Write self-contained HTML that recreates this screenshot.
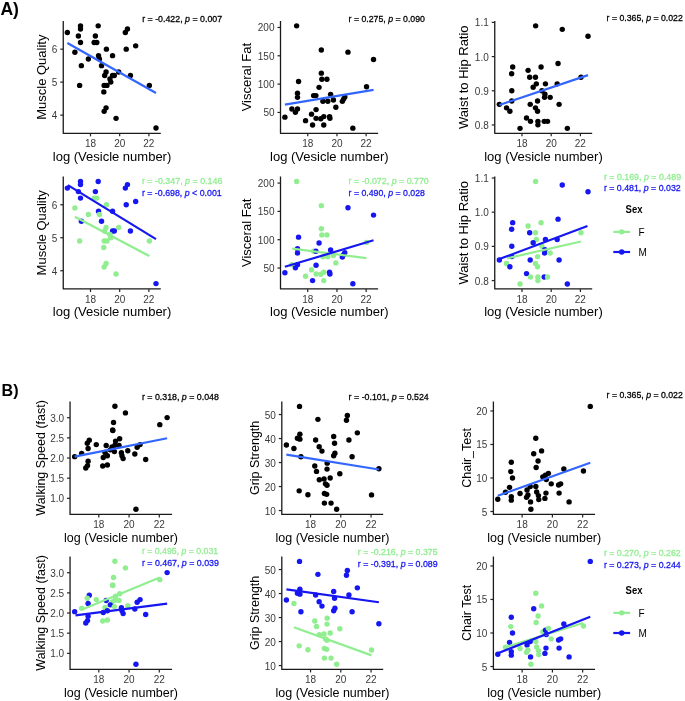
<!DOCTYPE html>
<html><head><meta charset="utf-8"><style>
html,body{margin:0;padding:0;background:#fff;overflow:hidden;width:685px;height:701px;}
svg{display:block;will-change:transform;}
text{font-family:"Liberation Sans",sans-serif;}
.ax{stroke:#1a1a1a;stroke-width:1.3;fill:none;stroke-linejoin:round;}
.tk{stroke:#222;stroke-width:1.2;fill:none;}
.tl{font-size:10px;fill:#3a3a3a;}
.at{font-size:12.9px;fill:#000;}
.an{font-size:9.9px;font-weight:normal;word-spacing:0px;stroke-width:0.3px;}
.lg{font-size:10.6px;font-weight:bold;fill:#000;}
.lt{font-size:10px;fill:#000;}
.pl{font-size:17.6px;font-weight:bold;fill:#000;}
</style></head><body>
<svg width="685" height="701" viewBox="0 0 685 701">
<rect width="685" height="701" fill="#fff"/>
<text x="0.5" y="14.6" class="pl" textLength="18.4" lengthAdjust="spacing">A)</text>
<text x="1.6" y="395.5" class="pl" style="font-size:17px" textLength="17.0" lengthAdjust="spacingAndGlyphs">B)</text>
<path d="M63.25 21.00V133.35H160.80" class="ax"/>
<path d="M60.25 49.15H63.25" class="tk"/>
<text x="57.25" y="53.15" class="tl" text-anchor="end">6</text>
<path d="M60.25 82.13H63.25" class="tk"/>
<text x="57.25" y="86.13" class="tl" text-anchor="end">5</text>
<path d="M60.25 115.12H63.25" class="tk"/>
<text x="57.25" y="119.12" class="tl" text-anchor="end">4</text>
<path d="M90.49 133.35V136.35" class="tk"/>
<text x="90.49" y="147.15" class="tl" text-anchor="middle">18</text>
<path d="M119.69 133.35V136.35" class="tk"/>
<text x="119.69" y="147.15" class="tl" text-anchor="middle">20</text>
<path d="M148.89 133.35V136.35" class="tk"/>
<text x="148.89" y="147.15" class="tl" text-anchor="middle">22</text>
<text x="112.03" y="160.55" class="at" style="font-size:13.0px" text-anchor="middle">log (Vesicle number)</text>
<text transform="translate(45.60 77.17) rotate(-90)" class="at" style="font-size:13.0px" text-anchor="middle">Muscle Quality</text>
<circle cx="67.36" cy="32.52" r="2.7" fill="#000000"/>
<circle cx="80.50" cy="25.86" r="2.7" fill="#000000"/>
<circle cx="80.50" cy="29.01" r="2.7" fill="#000000"/>
<circle cx="98.19" cy="25.86" r="2.7" fill="#000000"/>
<circle cx="78.39" cy="36.02" r="2.7" fill="#000000"/>
<circle cx="95.39" cy="36.02" r="2.7" fill="#000000"/>
<circle cx="80.50" cy="42.50" r="2.7" fill="#000000"/>
<circle cx="94.16" cy="42.50" r="2.7" fill="#000000"/>
<circle cx="96.79" cy="42.50" r="2.7" fill="#000000"/>
<circle cx="127.45" cy="29.01" r="2.7" fill="#000000"/>
<circle cx="125.34" cy="32.52" r="2.7" fill="#000000"/>
<circle cx="135.68" cy="45.83" r="2.7" fill="#000000"/>
<circle cx="126.22" cy="49.16" r="2.7" fill="#000000"/>
<circle cx="74.89" cy="52.31" r="2.7" fill="#000000"/>
<circle cx="106.42" cy="49.16" r="2.7" fill="#000000"/>
<circle cx="98.54" cy="55.64" r="2.7" fill="#000000"/>
<circle cx="112.55" cy="55.64" r="2.7" fill="#000000"/>
<circle cx="88.38" cy="58.97" r="2.7" fill="#000000"/>
<circle cx="99.42" cy="58.97" r="2.7" fill="#000000"/>
<circle cx="81.37" cy="65.63" r="2.7" fill="#000000"/>
<circle cx="101.52" cy="65.63" r="2.7" fill="#000000"/>
<circle cx="106.07" cy="71.93" r="2.7" fill="#000000"/>
<circle cx="118.69" cy="71.93" r="2.7" fill="#000000"/>
<circle cx="104.67" cy="75.44" r="2.7" fill="#000000"/>
<circle cx="112.55" cy="75.44" r="2.7" fill="#000000"/>
<circle cx="114.31" cy="75.44" r="2.7" fill="#000000"/>
<circle cx="130.42" cy="75.44" r="2.7" fill="#000000"/>
<circle cx="109.93" cy="78.94" r="2.7" fill="#000000"/>
<circle cx="110.80" cy="82.09" r="2.7" fill="#000000"/>
<circle cx="79.62" cy="85.42" r="2.7" fill="#000000"/>
<circle cx="104.15" cy="85.42" r="2.7" fill="#000000"/>
<circle cx="106.95" cy="85.42" r="2.7" fill="#000000"/>
<circle cx="149.34" cy="85.42" r="2.7" fill="#000000"/>
<circle cx="103.80" cy="91.91" r="2.7" fill="#000000"/>
<circle cx="106.07" cy="107.85" r="2.7" fill="#000000"/>
<circle cx="104.15" cy="111.35" r="2.7" fill="#000000"/>
<circle cx="116.06" cy="118.36" r="2.7" fill="#000000"/>
<circle cx="156.00" cy="127.99" r="2.7" fill="#000000"/>
<path d="M67.36 43.03L156.00 92.96" stroke="#3366FF" stroke-width="2.2" fill="none"/>
<text x="142.20" y="22.30" class="an" fill="#000000" stroke="#000000" textLength="79.90" lengthAdjust="spacingAndGlyphs">r = -0.422, <tspan font-style="italic">p</tspan> = 0.007</text>
<path d="M280.50 21.00V133.35H378.10" class="ax"/>
<path d="M277.50 27.46H280.50" class="tk"/>
<text x="274.50" y="31.46" class="tl" text-anchor="end">200</text>
<path d="M277.50 55.79H280.50" class="tk"/>
<text x="274.50" y="59.79" class="tl" text-anchor="end">150</text>
<path d="M277.50 84.11H280.50" class="tk"/>
<text x="274.50" y="88.11" class="tl" text-anchor="end">100</text>
<path d="M277.50 112.44H280.50" class="tk"/>
<text x="274.50" y="116.44" class="tl" text-anchor="end">50</text>
<path d="M307.74 133.35V136.35" class="tk"/>
<text x="307.74" y="147.15" class="tl" text-anchor="middle">18</text>
<path d="M336.94 133.35V136.35" class="tk"/>
<text x="336.94" y="147.15" class="tl" text-anchor="middle">20</text>
<path d="M366.14 133.35V136.35" class="tk"/>
<text x="366.14" y="147.15" class="tl" text-anchor="middle">22</text>
<text x="329.30" y="160.55" class="at" style="font-size:13.0px" text-anchor="middle">log (Vesicle number)</text>
<text transform="translate(251.20 77.17) rotate(-90)" class="at" style="font-size:13.0px" text-anchor="middle">Visceral Fat</text>
<circle cx="296.63" cy="25.86" r="2.7" fill="#000000"/>
<circle cx="321.33" cy="50.04" r="2.7" fill="#000000"/>
<circle cx="347.96" cy="52.14" r="2.7" fill="#000000"/>
<circle cx="373.53" cy="59.50" r="2.7" fill="#000000"/>
<circle cx="321.33" cy="73.16" r="2.7" fill="#000000"/>
<circle cx="321.85" cy="79.29" r="2.7" fill="#000000"/>
<circle cx="326.93" cy="79.29" r="2.7" fill="#000000"/>
<circle cx="298.55" cy="81.57" r="2.7" fill="#000000"/>
<circle cx="319.05" cy="87.35" r="2.7" fill="#000000"/>
<circle cx="366.53" cy="86.82" r="2.7" fill="#000000"/>
<circle cx="297.50" cy="93.13" r="2.7" fill="#000000"/>
<circle cx="297.50" cy="97.34" r="2.7" fill="#000000"/>
<circle cx="313.62" cy="95.58" r="2.7" fill="#000000"/>
<circle cx="315.90" cy="95.58" r="2.7" fill="#000000"/>
<circle cx="330.61" cy="94.36" r="2.7" fill="#000000"/>
<circle cx="333.42" cy="99.96" r="2.7" fill="#000000"/>
<circle cx="322.91" cy="101.19" r="2.7" fill="#000000"/>
<circle cx="327.81" cy="101.19" r="2.7" fill="#000000"/>
<circle cx="344.80" cy="96.99" r="2.7" fill="#000000"/>
<circle cx="343.58" cy="99.09" r="2.7" fill="#000000"/>
<circle cx="342.35" cy="101.36" r="2.7" fill="#000000"/>
<circle cx="335.87" cy="107.32" r="2.7" fill="#000000"/>
<circle cx="291.90" cy="109.07" r="2.7" fill="#000000"/>
<circle cx="297.50" cy="109.07" r="2.7" fill="#000000"/>
<circle cx="295.40" cy="112.23" r="2.7" fill="#000000"/>
<circle cx="316.07" cy="109.60" r="2.7" fill="#000000"/>
<circle cx="311.52" cy="114.15" r="2.7" fill="#000000"/>
<circle cx="284.89" cy="117.13" r="2.7" fill="#000000"/>
<circle cx="316.07" cy="118.36" r="2.7" fill="#000000"/>
<circle cx="320.80" cy="118.71" r="2.7" fill="#000000"/>
<circle cx="323.78" cy="116.61" r="2.7" fill="#000000"/>
<circle cx="329.56" cy="116.61" r="2.7" fill="#000000"/>
<circle cx="329.91" cy="118.36" r="2.7" fill="#000000"/>
<circle cx="305.56" cy="120.64" r="2.7" fill="#000000"/>
<circle cx="312.57" cy="125.01" r="2.7" fill="#000000"/>
<circle cx="323.78" cy="125.01" r="2.7" fill="#000000"/>
<circle cx="352.86" cy="128.17" r="2.7" fill="#000000"/>
<path d="M284.89 104.69L373.53 89.80" stroke="#3366FF" stroke-width="2.2" fill="none"/>
<text x="348.60" y="22.10" class="an" fill="#000000" stroke="#000000" textLength="76.30" lengthAdjust="spacingAndGlyphs">r = 0.275, <tspan font-style="italic">p</tspan> = 0.090</text>
<path d="M494.75 21.00V133.35H592.20" class="ax"/>
<path d="M491.75 22.41H494.75" class="tk"/>
<text x="488.75" y="26.41" class="tl" text-anchor="end">1.1</text>
<path d="M491.75 56.59H494.75" class="tk"/>
<text x="488.75" y="60.59" class="tl" text-anchor="end">1.0</text>
<path d="M491.75 90.78H494.75" class="tk"/>
<text x="488.75" y="94.78" class="tl" text-anchor="end">0.9</text>
<path d="M491.75 124.96H494.75" class="tk"/>
<text x="488.75" y="128.96" class="tl" text-anchor="end">0.8</text>
<path d="M521.99 133.35V136.35" class="tk"/>
<text x="521.99" y="147.15" class="tl" text-anchor="middle">18</text>
<path d="M551.19 133.35V136.35" class="tk"/>
<text x="551.19" y="147.15" class="tl" text-anchor="middle">20</text>
<path d="M580.39 133.35V136.35" class="tk"/>
<text x="580.39" y="147.15" class="tl" text-anchor="middle">22</text>
<text x="543.48" y="160.55" class="at" style="font-size:13.0px" text-anchor="middle">log (Vesicle number)</text>
<text transform="translate(468.40 77.17) rotate(-90)" class="at" style="font-size:13.0px" text-anchor="middle">Waist to Hip Ratio</text>
<circle cx="535.63" cy="25.86" r="2.7" fill="#000000"/>
<circle cx="562.26" cy="29.36" r="2.7" fill="#000000"/>
<circle cx="588.01" cy="36.20" r="2.7" fill="#000000"/>
<circle cx="558.05" cy="63.53" r="2.7" fill="#000000"/>
<circle cx="512.68" cy="67.03" r="2.7" fill="#000000"/>
<circle cx="541.06" cy="67.03" r="2.7" fill="#000000"/>
<circle cx="528.09" cy="70.36" r="2.7" fill="#000000"/>
<circle cx="511.63" cy="73.69" r="2.7" fill="#000000"/>
<circle cx="529.67" cy="77.19" r="2.7" fill="#000000"/>
<circle cx="535.45" cy="77.19" r="2.7" fill="#000000"/>
<circle cx="581.00" cy="77.19" r="2.7" fill="#000000"/>
<circle cx="536.33" cy="83.85" r="2.7" fill="#000000"/>
<circle cx="545.44" cy="83.85" r="2.7" fill="#000000"/>
<circle cx="557.18" cy="83.85" r="2.7" fill="#000000"/>
<circle cx="533.18" cy="87.18" r="2.7" fill="#000000"/>
<circle cx="511.80" cy="90.68" r="2.7" fill="#000000"/>
<circle cx="541.93" cy="90.68" r="2.7" fill="#000000"/>
<circle cx="544.91" cy="94.18" r="2.7" fill="#000000"/>
<circle cx="544.56" cy="97.34" r="2.7" fill="#000000"/>
<circle cx="550.17" cy="97.34" r="2.7" fill="#000000"/>
<circle cx="511.80" cy="101.01" r="2.7" fill="#000000"/>
<circle cx="537.55" cy="101.01" r="2.7" fill="#000000"/>
<circle cx="499.36" cy="104.34" r="2.7" fill="#000000"/>
<circle cx="530.20" cy="104.34" r="2.7" fill="#000000"/>
<circle cx="559.10" cy="104.34" r="2.7" fill="#000000"/>
<circle cx="506.55" cy="107.85" r="2.7" fill="#000000"/>
<circle cx="535.45" cy="107.85" r="2.7" fill="#000000"/>
<circle cx="509.88" cy="111.18" r="2.7" fill="#000000"/>
<circle cx="537.55" cy="111.18" r="2.7" fill="#000000"/>
<circle cx="526.52" cy="118.01" r="2.7" fill="#000000"/>
<circle cx="530.55" cy="121.34" r="2.7" fill="#000000"/>
<circle cx="537.91" cy="121.34" r="2.7" fill="#000000"/>
<circle cx="544.21" cy="121.34" r="2.7" fill="#000000"/>
<circle cx="547.54" cy="121.34" r="2.7" fill="#000000"/>
<circle cx="537.91" cy="124.84" r="2.7" fill="#000000"/>
<circle cx="520.04" cy="128.34" r="2.7" fill="#000000"/>
<circle cx="567.34" cy="128.34" r="2.7" fill="#000000"/>
<path d="M499.36 105.04L588.01 75.09" stroke="#3366FF" stroke-width="2.2" fill="none"/>
<text x="606.60" y="20.50" class="an" fill="#000000" stroke="#000000" textLength="76.20" lengthAdjust="spacingAndGlyphs">r = 0.365, <tspan font-style="italic">p</tspan> = 0.022</text>
<path d="M70.05 401.40V514.40H172.10" class="ax"/>
<path d="M67.05 417.74H70.05" class="tk"/>
<text x="64.05" y="421.74" class="tl" text-anchor="end">3.0</text>
<path d="M67.05 437.89H70.05" class="tk"/>
<text x="64.05" y="441.89" class="tl" text-anchor="end">2.5</text>
<path d="M67.05 458.03H70.05" class="tk"/>
<text x="64.05" y="462.03" class="tl" text-anchor="end">2.0</text>
<path d="M67.05 478.18H70.05" class="tk"/>
<text x="64.05" y="482.18" class="tl" text-anchor="end">1.5</text>
<path d="M67.05 498.33H70.05" class="tk"/>
<text x="64.05" y="502.33" class="tl" text-anchor="end">1.0</text>
<path d="M98.80 514.40V517.40" class="tk"/>
<text x="98.80" y="528.20" class="tl" text-anchor="middle">18</text>
<path d="M129.05 514.40V517.40" class="tk"/>
<text x="129.05" y="528.20" class="tl" text-anchor="middle">20</text>
<path d="M159.30 514.40V517.40" class="tk"/>
<text x="159.30" y="528.20" class="tl" text-anchor="middle">22</text>
<text x="121.07" y="541.50" class="at" style="font-size:12.5px" text-anchor="middle">log (Vesicle number)</text>
<text transform="translate(44.70 457.90) rotate(-90)" class="at" style="font-size:12.5px" text-anchor="middle">Walking Speed (fast)</text>
<circle cx="114.93" cy="406.23" r="2.7" fill="#000000"/>
<circle cx="125.44" cy="412.89" r="2.7" fill="#000000"/>
<circle cx="167.13" cy="417.62" r="2.7" fill="#000000"/>
<circle cx="159.77" cy="424.63" r="2.7" fill="#000000"/>
<circle cx="113.53" cy="422.53" r="2.7" fill="#000000"/>
<circle cx="112.65" cy="430.06" r="2.7" fill="#000000"/>
<circle cx="135.95" cy="509.24" r="2.7" fill="#000000"/>
<circle cx="112.86" cy="430.58" r="2.7" fill="#000000"/>
<circle cx="89.27" cy="440.28" r="2.7" fill="#000000"/>
<circle cx="87.28" cy="443.20" r="2.7" fill="#000000"/>
<circle cx="96.28" cy="444.60" r="2.7" fill="#000000"/>
<circle cx="88.10" cy="448.45" r="2.7" fill="#000000"/>
<circle cx="119.64" cy="438.76" r="2.7" fill="#000000"/>
<circle cx="115.55" cy="441.09" r="2.7" fill="#000000"/>
<circle cx="106.20" cy="445.53" r="2.7" fill="#000000"/>
<circle cx="112.04" cy="446.93" r="2.7" fill="#000000"/>
<circle cx="114.96" cy="445.18" r="2.7" fill="#000000"/>
<circle cx="119.05" cy="445.53" r="2.7" fill="#000000"/>
<circle cx="110.29" cy="449.85" r="2.7" fill="#000000"/>
<circle cx="140.07" cy="444.60" r="2.7" fill="#000000"/>
<circle cx="137.15" cy="447.28" r="2.7" fill="#000000"/>
<circle cx="127.81" cy="450.79" r="2.7" fill="#000000"/>
<circle cx="134.82" cy="453.94" r="2.7" fill="#000000"/>
<circle cx="121.39" cy="452.77" r="2.7" fill="#000000"/>
<circle cx="121.97" cy="455.69" r="2.7" fill="#000000"/>
<circle cx="123.14" cy="458.61" r="2.7" fill="#000000"/>
<circle cx="145.68" cy="459.43" r="2.7" fill="#000000"/>
<circle cx="81.68" cy="453.36" r="2.7" fill="#000000"/>
<circle cx="74.67" cy="456.63" r="2.7" fill="#000000"/>
<circle cx="105.04" cy="452.42" r="2.7" fill="#000000"/>
<circle cx="107.37" cy="455.69" r="2.7" fill="#000000"/>
<circle cx="103.28" cy="457.45" r="2.7" fill="#000000"/>
<circle cx="88.10" cy="461.30" r="2.7" fill="#000000"/>
<circle cx="87.52" cy="465.62" r="2.7" fill="#000000"/>
<circle cx="85.77" cy="467.96" r="2.7" fill="#000000"/>
<circle cx="102.70" cy="465.97" r="2.7" fill="#000000"/>
<circle cx="107.37" cy="465.04" r="2.7" fill="#000000"/>
<circle cx="114.38" cy="451.61" r="2.7" fill="#000000"/>
<path d="M74.64 456.69L167.13 438.29" stroke="#3366FF" stroke-width="2.2" fill="none"/>
<text x="141.90" y="399.80" class="an" fill="#000000" stroke="#000000" textLength="77.00" lengthAdjust="spacingAndGlyphs">r = 0.318, <tspan font-style="italic">p</tspan> = 0.048</text>
<path d="M281.80 401.40V514.40H383.20" class="ax"/>
<path d="M278.80 414.54H281.80" class="tk"/>
<text x="275.80" y="418.54" class="tl" text-anchor="end">50</text>
<path d="M278.80 438.55H281.80" class="tk"/>
<text x="275.80" y="442.55" class="tl" text-anchor="end">40</text>
<path d="M278.80 462.55H281.80" class="tk"/>
<text x="275.80" y="466.55" class="tl" text-anchor="end">30</text>
<path d="M278.80 486.56H281.80" class="tk"/>
<text x="275.80" y="490.56" class="tl" text-anchor="end">20</text>
<path d="M278.80 510.56H281.80" class="tk"/>
<text x="275.80" y="514.56" class="tl" text-anchor="end">10</text>
<path d="M310.55 514.40V517.40" class="tk"/>
<text x="310.55" y="528.20" class="tl" text-anchor="middle">18</text>
<path d="M340.80 514.40V517.40" class="tk"/>
<text x="340.80" y="528.20" class="tl" text-anchor="middle">20</text>
<path d="M371.05 514.40V517.40" class="tk"/>
<text x="371.05" y="528.20" class="tl" text-anchor="middle">22</text>
<text x="332.50" y="541.50" class="at" style="font-size:12.5px" text-anchor="middle">log (Vesicle number)</text>
<text transform="translate(259.00 457.90) rotate(-90)" class="at" style="font-size:12.5px" text-anchor="middle">Grip Strength</text>
<circle cx="299.53" cy="406.41" r="2.7" fill="#000000"/>
<circle cx="317.92" cy="419.37" r="2.7" fill="#000000"/>
<circle cx="347.35" cy="415.52" r="2.7" fill="#000000"/>
<circle cx="346.47" cy="420.25" r="2.7" fill="#000000"/>
<circle cx="357.34" cy="432.86" r="2.7" fill="#000000"/>
<circle cx="299.88" cy="434.26" r="2.7" fill="#000000"/>
<circle cx="297.42" cy="438.29" r="2.7" fill="#000000"/>
<circle cx="299.88" cy="439.17" r="2.7" fill="#000000"/>
<circle cx="315.64" cy="440.04" r="2.7" fill="#000000"/>
<circle cx="333.69" cy="436.54" r="2.7" fill="#000000"/>
<circle cx="348.93" cy="440.04" r="2.7" fill="#000000"/>
<circle cx="334.56" cy="443.20" r="2.7" fill="#000000"/>
<circle cx="286.39" cy="444.95" r="2.7" fill="#000000"/>
<circle cx="293.92" cy="448.45" r="2.7" fill="#000000"/>
<circle cx="319.15" cy="446.70" r="2.7" fill="#000000"/>
<circle cx="321.95" cy="451.08" r="2.7" fill="#000000"/>
<circle cx="334.91" cy="453.18" r="2.7" fill="#000000"/>
<circle cx="333.69" cy="455.81" r="2.7" fill="#000000"/>
<circle cx="300.93" cy="456.69" r="2.7" fill="#000000"/>
<circle cx="352.08" cy="456.69" r="2.7" fill="#000000"/>
<circle cx="327.20" cy="463.17" r="2.7" fill="#000000"/>
<circle cx="314.77" cy="465.97" r="2.7" fill="#000000"/>
<circle cx="327.03" cy="469.12" r="2.7" fill="#000000"/>
<circle cx="378.88" cy="468.77" r="2.7" fill="#000000"/>
<circle cx="316.52" cy="471.40" r="2.7" fill="#000000"/>
<circle cx="339.82" cy="473.68" r="2.7" fill="#000000"/>
<circle cx="319.32" cy="479.81" r="2.7" fill="#000000"/>
<circle cx="324.05" cy="478.93" r="2.7" fill="#000000"/>
<circle cx="330.18" cy="478.06" r="2.7" fill="#000000"/>
<circle cx="325.45" cy="483.84" r="2.7" fill="#000000"/>
<circle cx="327.03" cy="485.24" r="2.7" fill="#000000"/>
<circle cx="299.18" cy="490.85" r="2.7" fill="#000000"/>
<circle cx="307.93" cy="494.70" r="2.7" fill="#000000"/>
<circle cx="324.40" cy="493.47" r="2.7" fill="#000000"/>
<circle cx="326.68" cy="494.35" r="2.7" fill="#000000"/>
<circle cx="371.53" cy="494.88" r="2.7" fill="#000000"/>
<circle cx="324.40" cy="503.11" r="2.7" fill="#000000"/>
<circle cx="331.06" cy="503.11" r="2.7" fill="#000000"/>
<circle cx="336.66" cy="509.24" r="2.7" fill="#000000"/>
<path d="M286.39 454.58L378.88 469.47" stroke="#3366FF" stroke-width="2.2" fill="none"/>
<text x="348.60" y="399.80" class="an" fill="#000000" stroke="#000000" textLength="80.20" lengthAdjust="spacingAndGlyphs">r = -0.101, <tspan font-style="italic">p</tspan> = 0.524</text>
<path d="M493.40 401.40V514.40H595.06" class="ax"/>
<path d="M490.40 410.96H493.40" class="tk"/>
<text x="487.40" y="414.96" class="tl" text-anchor="end">20</text>
<path d="M490.40 444.47H493.40" class="tk"/>
<text x="487.40" y="448.47" class="tl" text-anchor="end">15</text>
<path d="M490.40 477.99H493.40" class="tk"/>
<text x="487.40" y="481.99" class="tl" text-anchor="end">10</text>
<path d="M490.40 511.50H493.40" class="tk"/>
<text x="487.40" y="515.50" class="tl" text-anchor="end">5</text>
<path d="M522.15 514.40V517.40" class="tk"/>
<text x="522.15" y="528.20" class="tl" text-anchor="middle">18</text>
<path d="M552.40 514.40V517.40" class="tk"/>
<text x="552.40" y="528.20" class="tl" text-anchor="middle">20</text>
<path d="M582.65 514.40V517.40" class="tk"/>
<text x="582.65" y="528.20" class="tl" text-anchor="middle">22</text>
<text x="544.23" y="541.50" class="at" style="font-size:12.5px" text-anchor="middle">log (Vesicle number)</text>
<text transform="translate(471.00 457.90) rotate(-90)" class="at" style="font-size:12.5px" text-anchor="middle">Chair_Test</text>
<circle cx="590.28" cy="406.41" r="2.7" fill="#000000"/>
<circle cx="535.80" cy="438.29" r="2.7" fill="#000000"/>
<circle cx="541.58" cy="450.91" r="2.7" fill="#000000"/>
<circle cx="533.70" cy="453.71" r="2.7" fill="#000000"/>
<circle cx="538.08" cy="461.07" r="2.7" fill="#000000"/>
<circle cx="511.28" cy="462.29" r="2.7" fill="#000000"/>
<circle cx="536.15" cy="467.55" r="2.7" fill="#000000"/>
<circle cx="563.83" cy="468.95" r="2.7" fill="#000000"/>
<circle cx="583.45" cy="471.05" r="2.7" fill="#000000"/>
<circle cx="510.75" cy="471.58" r="2.7" fill="#000000"/>
<circle cx="512.50" cy="478.06" r="2.7" fill="#000000"/>
<circle cx="542.81" cy="476.83" r="2.7" fill="#000000"/>
<circle cx="545.44" cy="475.08" r="2.7" fill="#000000"/>
<circle cx="548.42" cy="473.33" r="2.7" fill="#000000"/>
<circle cx="546.31" cy="479.46" r="2.7" fill="#000000"/>
<circle cx="551.22" cy="483.84" r="2.7" fill="#000000"/>
<circle cx="558.58" cy="485.07" r="2.7" fill="#000000"/>
<circle cx="560.68" cy="483.84" r="2.7" fill="#000000"/>
<circle cx="509.53" cy="487.34" r="2.7" fill="#000000"/>
<circle cx="535.80" cy="486.47" r="2.7" fill="#000000"/>
<circle cx="505.50" cy="492.25" r="2.7" fill="#000000"/>
<circle cx="527.04" cy="489.97" r="2.7" fill="#000000"/>
<circle cx="530.20" cy="486.47" r="2.7" fill="#000000"/>
<circle cx="520.04" cy="493.47" r="2.7" fill="#000000"/>
<circle cx="527.92" cy="494.88" r="2.7" fill="#000000"/>
<circle cx="526.52" cy="497.33" r="2.7" fill="#000000"/>
<circle cx="536.68" cy="492.07" r="2.7" fill="#000000"/>
<circle cx="538.43" cy="495.58" r="2.7" fill="#000000"/>
<circle cx="545.96" cy="493.12" r="2.7" fill="#000000"/>
<circle cx="559.10" cy="493.12" r="2.7" fill="#000000"/>
<circle cx="511.28" cy="496.63" r="2.7" fill="#000000"/>
<circle cx="511.28" cy="500.13" r="2.7" fill="#000000"/>
<circle cx="544.91" cy="498.38" r="2.7" fill="#000000"/>
<circle cx="538.78" cy="499.61" r="2.7" fill="#000000"/>
<circle cx="530.55" cy="501.88" r="2.7" fill="#000000"/>
<circle cx="569.09" cy="501.88" r="2.7" fill="#000000"/>
<circle cx="497.79" cy="499.26" r="2.7" fill="#000000"/>
<circle cx="530.90" cy="509.24" r="2.7" fill="#000000"/>
<path d="M497.79 495.75L590.28 462.82" stroke="#3366FF" stroke-width="2.2" fill="none"/>
<text x="606.60" y="398.10" class="an" fill="#000000" stroke="#000000" textLength="76.20" lengthAdjust="spacingAndGlyphs">r = 0.365, <tspan font-style="italic">p</tspan> = 0.022</text>
<path d="M63.25 176.60V288.95H160.80" class="ax"/>
<path d="M60.25 204.75H63.25" class="tk"/>
<text x="57.25" y="208.75" class="tl" text-anchor="end">6</text>
<path d="M60.25 237.73H63.25" class="tk"/>
<text x="57.25" y="241.73" class="tl" text-anchor="end">5</text>
<path d="M60.25 270.72H63.25" class="tk"/>
<text x="57.25" y="274.72" class="tl" text-anchor="end">4</text>
<path d="M90.49 288.95V291.95" class="tk"/>
<text x="90.49" y="302.75" class="tl" text-anchor="middle">18</text>
<path d="M119.69 288.95V291.95" class="tk"/>
<text x="119.69" y="302.75" class="tl" text-anchor="middle">20</text>
<path d="M148.89 288.95V291.95" class="tk"/>
<text x="148.89" y="302.75" class="tl" text-anchor="middle">22</text>
<text x="112.03" y="316.15" class="at" style="font-size:13.0px" text-anchor="middle">log (Vesicle number)</text>
<text transform="translate(45.60 232.77) rotate(-90)" class="at" style="font-size:13.0px" text-anchor="middle">Muscle Quality</text>
<circle cx="67.36" cy="188.12" r="2.7" fill="#1616F0"/>
<circle cx="80.50" cy="181.46" r="2.7" fill="#1616F0"/>
<circle cx="80.50" cy="184.61" r="2.7" fill="#1616F0"/>
<circle cx="98.19" cy="181.46" r="2.7" fill="#1616F0"/>
<circle cx="78.39" cy="191.62" r="2.7" fill="#1616F0"/>
<circle cx="95.39" cy="191.62" r="2.7" fill="#1616F0"/>
<circle cx="80.50" cy="198.10" r="2.7" fill="#1616F0"/>
<circle cx="94.16" cy="198.10" r="2.7" fill="#90EE90"/>
<circle cx="96.79" cy="198.10" r="2.7" fill="#90EE90"/>
<circle cx="127.45" cy="184.61" r="2.7" fill="#1616F0"/>
<circle cx="125.34" cy="188.12" r="2.7" fill="#1616F0"/>
<circle cx="135.68" cy="201.43" r="2.7" fill="#1616F0"/>
<circle cx="126.22" cy="204.76" r="2.7" fill="#1616F0"/>
<circle cx="74.89" cy="207.91" r="2.7" fill="#90EE90"/>
<circle cx="106.42" cy="204.76" r="2.7" fill="#90EE90"/>
<circle cx="98.54" cy="211.24" r="2.7" fill="#1616F0"/>
<circle cx="112.55" cy="211.24" r="2.7" fill="#1616F0"/>
<circle cx="88.38" cy="214.57" r="2.7" fill="#90EE90"/>
<circle cx="99.42" cy="214.57" r="2.7" fill="#90EE90"/>
<circle cx="81.37" cy="221.23" r="2.7" fill="#1616F0"/>
<circle cx="101.52" cy="221.23" r="2.7" fill="#1616F0"/>
<circle cx="106.07" cy="227.53" r="2.7" fill="#90EE90"/>
<circle cx="118.69" cy="227.53" r="2.7" fill="#90EE90"/>
<circle cx="104.67" cy="231.04" r="2.7" fill="#90EE90"/>
<circle cx="112.55" cy="231.04" r="2.7" fill="#1616F0"/>
<circle cx="114.31" cy="231.04" r="2.7" fill="#1616F0"/>
<circle cx="130.42" cy="231.04" r="2.7" fill="#1616F0"/>
<circle cx="109.93" cy="234.54" r="2.7" fill="#90EE90"/>
<circle cx="110.80" cy="237.69" r="2.7" fill="#90EE90"/>
<circle cx="79.62" cy="241.02" r="2.7" fill="#90EE90"/>
<circle cx="104.15" cy="241.02" r="2.7" fill="#90EE90"/>
<circle cx="106.95" cy="241.02" r="2.7" fill="#90EE90"/>
<circle cx="149.34" cy="241.02" r="2.7" fill="#90EE90"/>
<circle cx="103.80" cy="247.51" r="2.7" fill="#90EE90"/>
<circle cx="106.07" cy="263.45" r="2.7" fill="#90EE90"/>
<circle cx="104.15" cy="266.95" r="2.7" fill="#90EE90"/>
<circle cx="116.06" cy="273.96" r="2.7" fill="#90EE90"/>
<circle cx="156.00" cy="283.59" r="2.7" fill="#1616F0"/>
<path d="M74.89 216.67L149.34 256.09" stroke="#90EE90" stroke-width="2.2" fill="none"/>
<path d="M67.88 185.14L156.00 239.09" stroke="#1616F0" stroke-width="2.2" fill="none"/>
<text x="141.90" y="183.90" class="an" fill="#90EE90" stroke="#90EE90" textLength="80.50" lengthAdjust="spacingAndGlyphs">r = -0.347, <tspan font-style="italic">p</tspan> = 0.146</text>
<text x="141.90" y="195.90" class="an" fill="#1616F0" stroke="#1616F0" textLength="79.80" lengthAdjust="spacingAndGlyphs">r = -0.698, <tspan font-style="italic">p</tspan> &lt; 0.001</text>
<path d="M280.50 176.60V288.95H378.10" class="ax"/>
<path d="M277.50 183.06H280.50" class="tk"/>
<text x="274.50" y="187.06" class="tl" text-anchor="end">200</text>
<path d="M277.50 211.39H280.50" class="tk"/>
<text x="274.50" y="215.39" class="tl" text-anchor="end">150</text>
<path d="M277.50 239.71H280.50" class="tk"/>
<text x="274.50" y="243.71" class="tl" text-anchor="end">100</text>
<path d="M277.50 268.04H280.50" class="tk"/>
<text x="274.50" y="272.04" class="tl" text-anchor="end">50</text>
<path d="M307.74 288.95V291.95" class="tk"/>
<text x="307.74" y="302.75" class="tl" text-anchor="middle">18</text>
<path d="M336.94 288.95V291.95" class="tk"/>
<text x="336.94" y="302.75" class="tl" text-anchor="middle">20</text>
<path d="M366.14 288.95V291.95" class="tk"/>
<text x="366.14" y="302.75" class="tl" text-anchor="middle">22</text>
<text x="329.30" y="316.15" class="at" style="font-size:13.0px" text-anchor="middle">log (Vesicle number)</text>
<text transform="translate(251.20 232.77) rotate(-90)" class="at" style="font-size:13.0px" text-anchor="middle">Visceral Fat</text>
<circle cx="296.63" cy="181.46" r="2.7" fill="#90EE90"/>
<circle cx="321.33" cy="205.64" r="2.7" fill="#90EE90"/>
<circle cx="347.96" cy="207.74" r="2.7" fill="#1616F0"/>
<circle cx="373.53" cy="215.10" r="2.7" fill="#1616F0"/>
<circle cx="321.33" cy="228.76" r="2.7" fill="#90EE90"/>
<circle cx="321.85" cy="234.89" r="2.7" fill="#90EE90"/>
<circle cx="326.93" cy="234.89" r="2.7" fill="#90EE90"/>
<circle cx="298.55" cy="237.17" r="2.7" fill="#1616F0"/>
<circle cx="319.05" cy="242.95" r="2.7" fill="#1616F0"/>
<circle cx="366.53" cy="242.42" r="2.7" fill="#90EE90"/>
<circle cx="297.50" cy="248.73" r="2.7" fill="#1616F0"/>
<circle cx="297.50" cy="252.94" r="2.7" fill="#1616F0"/>
<circle cx="313.62" cy="251.18" r="2.7" fill="#90EE90"/>
<circle cx="315.90" cy="251.18" r="2.7" fill="#1616F0"/>
<circle cx="330.61" cy="249.96" r="2.7" fill="#1616F0"/>
<circle cx="333.42" cy="255.56" r="2.7" fill="#90EE90"/>
<circle cx="322.91" cy="256.79" r="2.7" fill="#90EE90"/>
<circle cx="327.81" cy="256.79" r="2.7" fill="#90EE90"/>
<circle cx="344.80" cy="252.59" r="2.7" fill="#1616F0"/>
<circle cx="343.58" cy="254.69" r="2.7" fill="#1616F0"/>
<circle cx="342.35" cy="256.96" r="2.7" fill="#1616F0"/>
<circle cx="335.87" cy="262.92" r="2.7" fill="#90EE90"/>
<circle cx="291.90" cy="264.67" r="2.7" fill="#90EE90"/>
<circle cx="297.50" cy="264.67" r="2.7" fill="#1616F0"/>
<circle cx="295.40" cy="267.83" r="2.7" fill="#1616F0"/>
<circle cx="316.07" cy="265.20" r="2.7" fill="#1616F0"/>
<circle cx="311.52" cy="269.75" r="2.7" fill="#90EE90"/>
<circle cx="284.89" cy="272.73" r="2.7" fill="#1616F0"/>
<circle cx="316.07" cy="273.96" r="2.7" fill="#90EE90"/>
<circle cx="320.80" cy="274.31" r="2.7" fill="#90EE90"/>
<circle cx="323.78" cy="272.21" r="2.7" fill="#90EE90"/>
<circle cx="329.56" cy="272.21" r="2.7" fill="#1616F0"/>
<circle cx="329.91" cy="273.96" r="2.7" fill="#1616F0"/>
<circle cx="305.56" cy="276.24" r="2.7" fill="#90EE90"/>
<circle cx="312.57" cy="280.61" r="2.7" fill="#1616F0"/>
<circle cx="323.78" cy="280.61" r="2.7" fill="#90EE90"/>
<circle cx="352.86" cy="283.77" r="2.7" fill="#1616F0"/>
<path d="M292.25 248.55L366.35 258.19" stroke="#90EE90" stroke-width="2.2" fill="none"/>
<path d="M284.89 266.77L373.53 240.32" stroke="#1616F0" stroke-width="2.2" fill="none"/>
<text x="348.60" y="183.90" class="an" fill="#90EE90" stroke="#90EE90" textLength="80.20" lengthAdjust="spacingAndGlyphs">r = -0.072, <tspan font-style="italic">p</tspan> = 0.770</text>
<text x="348.60" y="195.70" class="an" fill="#1616F0" stroke="#1616F0" textLength="76.30" lengthAdjust="spacingAndGlyphs">r = 0.490, <tspan font-style="italic">p</tspan> = 0.028</text>
<path d="M494.75 176.60V288.95H592.20" class="ax"/>
<path d="M491.75 178.01H494.75" class="tk"/>
<text x="488.75" y="182.01" class="tl" text-anchor="end">1.1</text>
<path d="M491.75 212.19H494.75" class="tk"/>
<text x="488.75" y="216.19" class="tl" text-anchor="end">1.0</text>
<path d="M491.75 246.38H494.75" class="tk"/>
<text x="488.75" y="250.38" class="tl" text-anchor="end">0.9</text>
<path d="M491.75 280.56H494.75" class="tk"/>
<text x="488.75" y="284.56" class="tl" text-anchor="end">0.8</text>
<path d="M521.99 288.95V291.95" class="tk"/>
<text x="521.99" y="302.75" class="tl" text-anchor="middle">18</text>
<path d="M551.19 288.95V291.95" class="tk"/>
<text x="551.19" y="302.75" class="tl" text-anchor="middle">20</text>
<path d="M580.39 288.95V291.95" class="tk"/>
<text x="580.39" y="302.75" class="tl" text-anchor="middle">22</text>
<text x="543.48" y="316.15" class="at" style="font-size:13.0px" text-anchor="middle">log (Vesicle number)</text>
<text transform="translate(468.40 232.77) rotate(-90)" class="at" style="font-size:13.0px" text-anchor="middle">Waist to Hip Ratio</text>
<circle cx="535.63" cy="181.46" r="2.7" fill="#90EE90"/>
<circle cx="562.26" cy="184.96" r="2.7" fill="#1616F0"/>
<circle cx="588.01" cy="191.80" r="2.7" fill="#1616F0"/>
<circle cx="558.05" cy="219.13" r="2.7" fill="#1616F0"/>
<circle cx="512.68" cy="222.63" r="2.7" fill="#1616F0"/>
<circle cx="541.06" cy="222.63" r="2.7" fill="#90EE90"/>
<circle cx="528.09" cy="225.96" r="2.7" fill="#90EE90"/>
<circle cx="511.63" cy="229.29" r="2.7" fill="#1616F0"/>
<circle cx="529.67" cy="232.79" r="2.7" fill="#1616F0"/>
<circle cx="535.45" cy="232.79" r="2.7" fill="#90EE90"/>
<circle cx="581.00" cy="232.79" r="2.7" fill="#90EE90"/>
<circle cx="536.33" cy="239.45" r="2.7" fill="#90EE90"/>
<circle cx="545.44" cy="239.45" r="2.7" fill="#1616F0"/>
<circle cx="557.18" cy="239.45" r="2.7" fill="#1616F0"/>
<circle cx="533.18" cy="242.78" r="2.7" fill="#1616F0"/>
<circle cx="511.80" cy="246.28" r="2.7" fill="#1616F0"/>
<circle cx="541.93" cy="246.28" r="2.7" fill="#90EE90"/>
<circle cx="544.91" cy="249.78" r="2.7" fill="#1616F0"/>
<circle cx="544.56" cy="252.94" r="2.7" fill="#1616F0"/>
<circle cx="550.17" cy="252.94" r="2.7" fill="#90EE90"/>
<circle cx="511.80" cy="256.61" r="2.7" fill="#1616F0"/>
<circle cx="537.55" cy="256.61" r="2.7" fill="#90EE90"/>
<circle cx="499.36" cy="259.94" r="2.7" fill="#1616F0"/>
<circle cx="530.20" cy="259.94" r="2.7" fill="#1616F0"/>
<circle cx="559.10" cy="259.94" r="2.7" fill="#1616F0"/>
<circle cx="506.55" cy="263.45" r="2.7" fill="#90EE90"/>
<circle cx="535.45" cy="263.45" r="2.7" fill="#90EE90"/>
<circle cx="509.88" cy="266.78" r="2.7" fill="#1616F0"/>
<circle cx="537.55" cy="266.78" r="2.7" fill="#90EE90"/>
<circle cx="526.52" cy="273.61" r="2.7" fill="#1616F0"/>
<circle cx="530.55" cy="276.94" r="2.7" fill="#90EE90"/>
<circle cx="537.91" cy="276.94" r="2.7" fill="#90EE90"/>
<circle cx="544.21" cy="276.94" r="2.7" fill="#1616F0"/>
<circle cx="547.54" cy="276.94" r="2.7" fill="#90EE90"/>
<circle cx="537.91" cy="280.44" r="2.7" fill="#90EE90"/>
<circle cx="520.04" cy="283.94" r="2.7" fill="#90EE90"/>
<circle cx="567.34" cy="283.94" r="2.7" fill="#1616F0"/>
<path d="M506.90 258.36L581.00 241.55" stroke="#90EE90" stroke-width="2.2" fill="none"/>
<path d="M499.36 259.07L587.48 225.96" stroke="#1616F0" stroke-width="2.2" fill="none"/>
<text x="603.90" y="179.50" class="an" fill="#90EE90" stroke="#90EE90" textLength="77.20" lengthAdjust="spacingAndGlyphs">r = 0.169, <tspan font-style="italic">p</tspan> = 0.489</text>
<text x="603.90" y="191.30" class="an" fill="#1616F0" stroke="#1616F0" textLength="76.80" lengthAdjust="spacingAndGlyphs">r = 0.481, <tspan font-style="italic">p</tspan> = 0.032</text>
<path d="M70.05 556.40V669.40H172.10" class="ax"/>
<path d="M67.05 572.74H70.05" class="tk"/>
<text x="64.05" y="576.74" class="tl" text-anchor="end">3.0</text>
<path d="M67.05 592.89H70.05" class="tk"/>
<text x="64.05" y="596.89" class="tl" text-anchor="end">2.5</text>
<path d="M67.05 613.03H70.05" class="tk"/>
<text x="64.05" y="617.03" class="tl" text-anchor="end">2.0</text>
<path d="M67.05 633.18H70.05" class="tk"/>
<text x="64.05" y="637.18" class="tl" text-anchor="end">1.5</text>
<path d="M67.05 653.33H70.05" class="tk"/>
<text x="64.05" y="657.33" class="tl" text-anchor="end">1.0</text>
<path d="M98.80 669.40V672.40" class="tk"/>
<text x="98.80" y="683.20" class="tl" text-anchor="middle">18</text>
<path d="M129.05 669.40V672.40" class="tk"/>
<text x="129.05" y="683.20" class="tl" text-anchor="middle">20</text>
<path d="M159.30 669.40V672.40" class="tk"/>
<text x="159.30" y="683.20" class="tl" text-anchor="middle">22</text>
<text x="121.07" y="696.50" class="at" style="font-size:12.5px" text-anchor="middle">log (Vesicle number)</text>
<text transform="translate(44.70 612.90) rotate(-90)" class="at" style="font-size:12.5px" text-anchor="middle">Walking Speed (fast)</text>
<circle cx="114.93" cy="561.23" r="2.7" fill="#90EE90"/>
<circle cx="125.44" cy="567.89" r="2.7" fill="#90EE90"/>
<circle cx="167.13" cy="572.62" r="2.7" fill="#1616F0"/>
<circle cx="159.77" cy="579.63" r="2.7" fill="#90EE90"/>
<circle cx="113.53" cy="577.53" r="2.7" fill="#90EE90"/>
<circle cx="112.65" cy="585.06" r="2.7" fill="#90EE90"/>
<circle cx="135.95" cy="664.24" r="2.7" fill="#1616F0"/>
<circle cx="112.86" cy="585.58" r="2.7" fill="#90EE90"/>
<circle cx="89.27" cy="595.28" r="2.7" fill="#1616F0"/>
<circle cx="87.28" cy="598.20" r="2.7" fill="#90EE90"/>
<circle cx="96.28" cy="599.60" r="2.7" fill="#90EE90"/>
<circle cx="88.10" cy="603.45" r="2.7" fill="#1616F0"/>
<circle cx="119.64" cy="593.76" r="2.7" fill="#90EE90"/>
<circle cx="115.55" cy="596.09" r="2.7" fill="#90EE90"/>
<circle cx="106.20" cy="600.53" r="2.7" fill="#1616F0"/>
<circle cx="112.04" cy="601.93" r="2.7" fill="#90EE90"/>
<circle cx="114.96" cy="600.18" r="2.7" fill="#90EE90"/>
<circle cx="119.05" cy="600.53" r="2.7" fill="#90EE90"/>
<circle cx="110.29" cy="604.85" r="2.7" fill="#1616F0"/>
<circle cx="140.07" cy="599.60" r="2.7" fill="#1616F0"/>
<circle cx="137.15" cy="602.28" r="2.7" fill="#1616F0"/>
<circle cx="127.81" cy="605.79" r="2.7" fill="#90EE90"/>
<circle cx="134.82" cy="608.94" r="2.7" fill="#1616F0"/>
<circle cx="121.39" cy="607.77" r="2.7" fill="#1616F0"/>
<circle cx="121.97" cy="610.69" r="2.7" fill="#1616F0"/>
<circle cx="123.14" cy="613.61" r="2.7" fill="#1616F0"/>
<circle cx="145.68" cy="614.43" r="2.7" fill="#1616F0"/>
<circle cx="81.68" cy="608.36" r="2.7" fill="#90EE90"/>
<circle cx="74.67" cy="611.63" r="2.7" fill="#1616F0"/>
<circle cx="105.04" cy="607.42" r="2.7" fill="#90EE90"/>
<circle cx="107.37" cy="610.69" r="2.7" fill="#1616F0"/>
<circle cx="103.28" cy="612.45" r="2.7" fill="#1616F0"/>
<circle cx="88.10" cy="616.30" r="2.7" fill="#1616F0"/>
<circle cx="87.52" cy="620.62" r="2.7" fill="#1616F0"/>
<circle cx="85.77" cy="622.96" r="2.7" fill="#1616F0"/>
<circle cx="102.70" cy="620.97" r="2.7" fill="#90EE90"/>
<circle cx="107.37" cy="620.04" r="2.7" fill="#90EE90"/>
<circle cx="114.38" cy="606.61" r="2.7" fill="#90EE90"/>
<path d="M82.17 609.46L159.77 577.40" stroke="#90EE90" stroke-width="2.2" fill="none"/>
<path d="M75.51 615.42L167.13 603.68" stroke="#1616F0" stroke-width="2.2" fill="none"/>
<text x="141.90" y="554.30" class="an" fill="#90EE90" stroke="#90EE90" textLength="76.30" lengthAdjust="spacingAndGlyphs">r = 0.495, <tspan font-style="italic">p</tspan> = 0.031</text>
<text x="141.90" y="566.10" class="an" fill="#1616F0" stroke="#1616F0" textLength="77.00" lengthAdjust="spacingAndGlyphs">r = 0.467, <tspan font-style="italic">p</tspan> = 0.039</text>
<path d="M281.80 556.40V669.40H383.20" class="ax"/>
<path d="M278.80 569.54H281.80" class="tk"/>
<text x="275.80" y="573.54" class="tl" text-anchor="end">50</text>
<path d="M278.80 593.55H281.80" class="tk"/>
<text x="275.80" y="597.55" class="tl" text-anchor="end">40</text>
<path d="M278.80 617.55H281.80" class="tk"/>
<text x="275.80" y="621.55" class="tl" text-anchor="end">30</text>
<path d="M278.80 641.56H281.80" class="tk"/>
<text x="275.80" y="645.56" class="tl" text-anchor="end">20</text>
<path d="M278.80 665.56H281.80" class="tk"/>
<text x="275.80" y="669.56" class="tl" text-anchor="end">10</text>
<path d="M310.55 669.40V672.40" class="tk"/>
<text x="310.55" y="683.20" class="tl" text-anchor="middle">18</text>
<path d="M340.80 669.40V672.40" class="tk"/>
<text x="340.80" y="683.20" class="tl" text-anchor="middle">20</text>
<path d="M371.05 669.40V672.40" class="tk"/>
<text x="371.05" y="683.20" class="tl" text-anchor="middle">22</text>
<text x="332.50" y="696.50" class="at" style="font-size:12.5px" text-anchor="middle">log (Vesicle number)</text>
<text transform="translate(259.00 612.90) rotate(-90)" class="at" style="font-size:12.5px" text-anchor="middle">Grip Strength</text>
<circle cx="299.53" cy="561.41" r="2.7" fill="#1616F0"/>
<circle cx="317.92" cy="574.37" r="2.7" fill="#1616F0"/>
<circle cx="347.35" cy="570.52" r="2.7" fill="#1616F0"/>
<circle cx="346.47" cy="575.25" r="2.7" fill="#1616F0"/>
<circle cx="357.34" cy="587.86" r="2.7" fill="#1616F0"/>
<circle cx="299.88" cy="589.26" r="2.7" fill="#1616F0"/>
<circle cx="297.42" cy="593.29" r="2.7" fill="#1616F0"/>
<circle cx="299.88" cy="594.17" r="2.7" fill="#1616F0"/>
<circle cx="315.64" cy="595.04" r="2.7" fill="#1616F0"/>
<circle cx="333.69" cy="591.54" r="2.7" fill="#1616F0"/>
<circle cx="348.93" cy="595.04" r="2.7" fill="#1616F0"/>
<circle cx="334.56" cy="598.20" r="2.7" fill="#1616F0"/>
<circle cx="286.39" cy="599.95" r="2.7" fill="#1616F0"/>
<circle cx="293.92" cy="603.45" r="2.7" fill="#90EE90"/>
<circle cx="319.15" cy="601.70" r="2.7" fill="#1616F0"/>
<circle cx="321.95" cy="606.08" r="2.7" fill="#1616F0"/>
<circle cx="334.91" cy="608.18" r="2.7" fill="#1616F0"/>
<circle cx="333.69" cy="610.81" r="2.7" fill="#1616F0"/>
<circle cx="300.93" cy="611.69" r="2.7" fill="#1616F0"/>
<circle cx="352.08" cy="611.69" r="2.7" fill="#1616F0"/>
<circle cx="327.20" cy="618.17" r="2.7" fill="#90EE90"/>
<circle cx="314.77" cy="620.97" r="2.7" fill="#90EE90"/>
<circle cx="327.03" cy="624.12" r="2.7" fill="#90EE90"/>
<circle cx="378.88" cy="623.77" r="2.7" fill="#1616F0"/>
<circle cx="316.52" cy="626.40" r="2.7" fill="#90EE90"/>
<circle cx="339.82" cy="628.68" r="2.7" fill="#90EE90"/>
<circle cx="319.32" cy="634.81" r="2.7" fill="#90EE90"/>
<circle cx="324.05" cy="633.93" r="2.7" fill="#90EE90"/>
<circle cx="330.18" cy="633.06" r="2.7" fill="#90EE90"/>
<circle cx="325.45" cy="638.84" r="2.7" fill="#90EE90"/>
<circle cx="327.03" cy="640.24" r="2.7" fill="#90EE90"/>
<circle cx="299.18" cy="645.85" r="2.7" fill="#90EE90"/>
<circle cx="307.93" cy="649.70" r="2.7" fill="#90EE90"/>
<circle cx="324.40" cy="648.47" r="2.7" fill="#90EE90"/>
<circle cx="326.68" cy="649.35" r="2.7" fill="#90EE90"/>
<circle cx="371.53" cy="649.88" r="2.7" fill="#90EE90"/>
<circle cx="324.40" cy="658.11" r="2.7" fill="#90EE90"/>
<circle cx="331.06" cy="658.11" r="2.7" fill="#90EE90"/>
<circle cx="336.66" cy="664.24" r="2.7" fill="#90EE90"/>
<path d="M293.92 627.33L371.53 655.36" stroke="#90EE90" stroke-width="2.2" fill="none"/>
<path d="M286.39 589.31L378.88 602.28" stroke="#1616F0" stroke-width="2.2" fill="none"/>
<text x="357.80" y="555.30" class="an" fill="#90EE90" stroke="#90EE90" textLength="79.80" lengthAdjust="spacingAndGlyphs">r = -0.216, <tspan font-style="italic">p</tspan> = 0.375</text>
<text x="357.80" y="567.00" class="an" fill="#1616F0" stroke="#1616F0" textLength="79.80" lengthAdjust="spacingAndGlyphs">r = -0.391, <tspan font-style="italic">p</tspan> = 0.089</text>
<path d="M493.40 556.40V669.40H595.06" class="ax"/>
<path d="M490.40 565.96H493.40" class="tk"/>
<text x="487.40" y="569.96" class="tl" text-anchor="end">20</text>
<path d="M490.40 599.47H493.40" class="tk"/>
<text x="487.40" y="603.47" class="tl" text-anchor="end">15</text>
<path d="M490.40 632.99H493.40" class="tk"/>
<text x="487.40" y="636.99" class="tl" text-anchor="end">10</text>
<path d="M490.40 666.50H493.40" class="tk"/>
<text x="487.40" y="670.50" class="tl" text-anchor="end">5</text>
<path d="M522.15 669.40V672.40" class="tk"/>
<text x="522.15" y="683.20" class="tl" text-anchor="middle">18</text>
<path d="M552.40 669.40V672.40" class="tk"/>
<text x="552.40" y="683.20" class="tl" text-anchor="middle">20</text>
<path d="M582.65 669.40V672.40" class="tk"/>
<text x="582.65" y="683.20" class="tl" text-anchor="middle">22</text>
<text x="544.23" y="696.50" class="at" style="font-size:12.5px" text-anchor="middle">log (Vesicle number)</text>
<text transform="translate(471.00 612.90) rotate(-90)" class="at" style="font-size:12.5px" text-anchor="middle">Chair Test</text>
<circle cx="590.28" cy="561.41" r="2.7" fill="#1616F0"/>
<circle cx="535.80" cy="593.29" r="2.7" fill="#90EE90"/>
<circle cx="541.58" cy="605.91" r="2.7" fill="#90EE90"/>
<circle cx="533.70" cy="608.71" r="2.7" fill="#1616F0"/>
<circle cx="538.08" cy="616.07" r="2.7" fill="#90EE90"/>
<circle cx="511.28" cy="617.29" r="2.7" fill="#1616F0"/>
<circle cx="536.15" cy="622.55" r="2.7" fill="#90EE90"/>
<circle cx="563.83" cy="623.95" r="2.7" fill="#1616F0"/>
<circle cx="583.45" cy="626.05" r="2.7" fill="#90EE90"/>
<circle cx="510.75" cy="626.58" r="2.7" fill="#90EE90"/>
<circle cx="512.50" cy="633.06" r="2.7" fill="#1616F0"/>
<circle cx="542.81" cy="631.83" r="2.7" fill="#90EE90"/>
<circle cx="545.44" cy="630.08" r="2.7" fill="#1616F0"/>
<circle cx="548.42" cy="628.33" r="2.7" fill="#90EE90"/>
<circle cx="546.31" cy="634.46" r="2.7" fill="#1616F0"/>
<circle cx="551.22" cy="638.84" r="2.7" fill="#90EE90"/>
<circle cx="558.58" cy="640.07" r="2.7" fill="#1616F0"/>
<circle cx="560.68" cy="638.84" r="2.7" fill="#1616F0"/>
<circle cx="509.53" cy="642.34" r="2.7" fill="#1616F0"/>
<circle cx="535.80" cy="641.47" r="2.7" fill="#90EE90"/>
<circle cx="505.50" cy="647.25" r="2.7" fill="#90EE90"/>
<circle cx="527.04" cy="644.97" r="2.7" fill="#1616F0"/>
<circle cx="530.20" cy="641.47" r="2.7" fill="#1616F0"/>
<circle cx="520.04" cy="648.47" r="2.7" fill="#90EE90"/>
<circle cx="527.92" cy="649.88" r="2.7" fill="#90EE90"/>
<circle cx="526.52" cy="652.33" r="2.7" fill="#90EE90"/>
<circle cx="536.68" cy="647.07" r="2.7" fill="#90EE90"/>
<circle cx="538.43" cy="650.58" r="2.7" fill="#90EE90"/>
<circle cx="545.96" cy="648.12" r="2.7" fill="#1616F0"/>
<circle cx="559.10" cy="648.12" r="2.7" fill="#1616F0"/>
<circle cx="511.28" cy="651.63" r="2.7" fill="#1616F0"/>
<circle cx="511.28" cy="655.13" r="2.7" fill="#1616F0"/>
<circle cx="544.91" cy="653.38" r="2.7" fill="#1616F0"/>
<circle cx="538.78" cy="654.61" r="2.7" fill="#90EE90"/>
<circle cx="530.55" cy="656.88" r="2.7" fill="#1616F0"/>
<circle cx="569.09" cy="656.88" r="2.7" fill="#1616F0"/>
<circle cx="497.79" cy="654.26" r="2.7" fill="#1616F0"/>
<circle cx="530.90" cy="664.24" r="2.7" fill="#90EE90"/>
<path d="M504.27 647.47L583.10 622.95" stroke="#90EE90" stroke-width="2.2" fill="none"/>
<path d="M497.79 653.26L590.28 616.82" stroke="#1616F0" stroke-width="2.2" fill="none"/>
<text x="603.90" y="555.80" class="an" fill="#90EE90" stroke="#90EE90" textLength="76.80" lengthAdjust="spacingAndGlyphs">r = 0.270, <tspan font-style="italic">p</tspan> = 0.262</text>
<text x="603.90" y="567.60" class="an" fill="#1616F0" stroke="#1616F0" textLength="76.80" lengthAdjust="spacingAndGlyphs">r = 0.273, <tspan font-style="italic">p</tspan> = 0.244</text>
<text x="625.6" y="213.25" class="lg" textLength="16.9" lengthAdjust="spacingAndGlyphs">Sex</text>
<path d="M613.3 231.85H630.1" stroke="#90EE90" stroke-width="2.2"/>
<circle cx="621.7" cy="231.85" r="2.7" fill="#90EE90"/>
<text x="638.5" y="235.50" class="lt">F</text>
<path d="M613.3 252.00H630.1" stroke="#1616F0" stroke-width="2.2"/>
<circle cx="621.7" cy="252.00" r="2.7" fill="#1616F0"/>
<text x="638.5" y="255.65" class="lt">M</text>
<text x="625.6" y="594.25" class="lg" textLength="16.9" lengthAdjust="spacingAndGlyphs">Sex</text>
<path d="M613.3 612.85H630.1" stroke="#90EE90" stroke-width="2.2"/>
<circle cx="621.7" cy="612.85" r="2.7" fill="#90EE90"/>
<text x="638.5" y="616.50" class="lt">F</text>
<path d="M613.3 633.00H630.1" stroke="#1616F0" stroke-width="2.2"/>
<circle cx="621.7" cy="633.00" r="2.7" fill="#1616F0"/>
<text x="638.5" y="636.65" class="lt">M</text>
</svg>
</body></html>
